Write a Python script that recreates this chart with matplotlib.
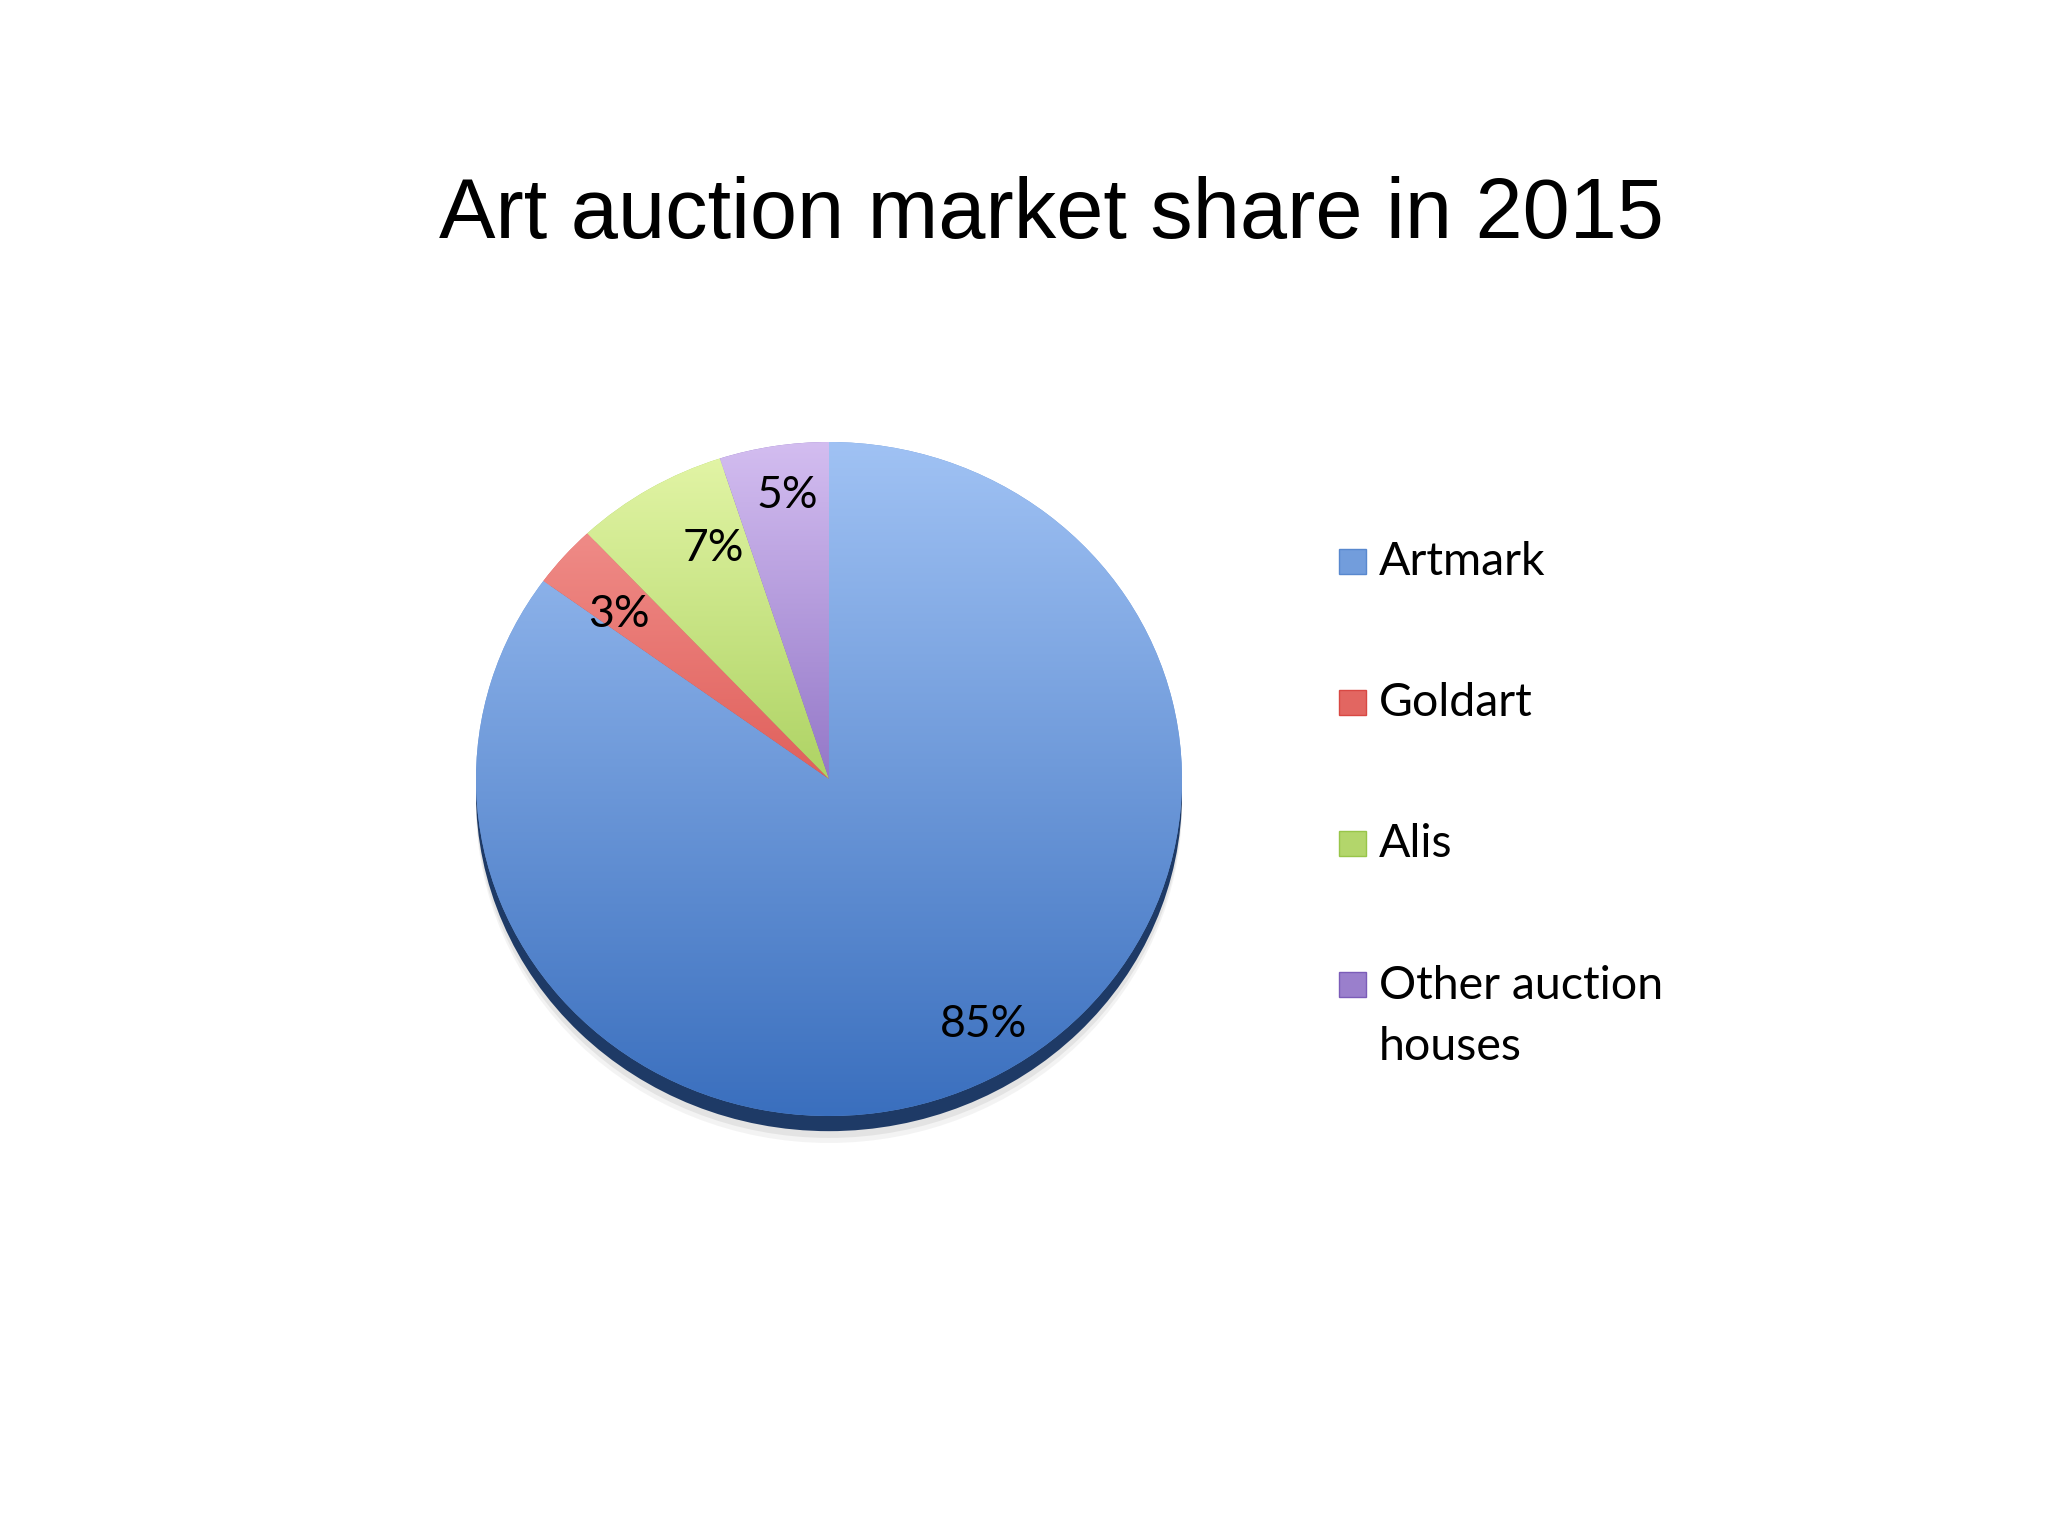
import matplotlib
matplotlib.use("Agg")
import matplotlib.pyplot as plt
import numpy as np
from matplotlib.colors import LinearSegmentedColormap
from matplotlib.patches import Ellipse, Rectangle

# ---- data ----
title = "Art auction market share in 2015"
categories = ["Artmark", "Goldart", "Alis", "Other auction\nhouses"]
shares = [85, 3, 7, 5]

# ---- styles ----
colors_top = ["#A0C2F4", "#F59B97", "#E4F6A8", "#D3BDF0"]
colors_bottom = ["#3A6FBE", "#CB2520", "#78B020", "#5533A0"]
label_dist = [0.85, 0.77, 0.76, 0.85]
label_angle_shift = [4, 2, -5, -1]

W, H = 2048, 1536
fig = plt.figure(figsize=(W / 100, H / 100), dpi=100)
fig.patch.set_facecolor("white")

# pie axes (slightly elliptical, as in the reference)
cx, cy, rx, ry = 829, 779, 353, 337
ax = fig.add_axes([(cx - rx) / W, (H - cy - ry) / H, 2 * rx / W, 2 * ry / H])

cmaps = [LinearSegmentedColormap.from_list(f"c{i}", [b, t])
         for i, (t, b) in enumerate(zip(colors_top, colors_bottom))]
mid_colors = [cm(0.5) for cm in cmaps]

# shadow under pie
for off, col, a in [(0.08, "#909090", 0.10), (0.065, "#707070", 0.12),
                    (0.045, "#1E3A66", 1.0)]:
    ax.add_patch(Ellipse((0, -off), 2.0, 2.0, facecolor=col, alpha=a,
                         edgecolor="none", zorder=0.5, clip_on=False))

wedges, texts, autotexts = ax.pie(
    shares, startangle=90, counterclock=False, colors=mid_colors,
    autopct="%1.0f%%", pctdistance=0.8, radius=1,
    wedgeprops=dict(linewidth=0),
    textprops=dict(fontsize=32, family=["Lato", "DejaVu Sans"], color="black"))

grad = np.linspace(0, 1, 256).reshape(-1, 1)
for w, cm in zip(wedges, cmaps):
    im = ax.imshow(grad, extent=(-1, 1, -1, 1), origin="lower", cmap=cm,
                   aspect="auto", zorder=2, interpolation="bilinear")
    im.set_clip_path(w)

for w, t, d, s in zip(wedges, autotexts, label_dist, label_angle_shift):
    ang = np.deg2rad((w.theta1 + w.theta2) / 2 + s)
    t.set_position((d * np.cos(ang), d * np.sin(ang)))
    t.set_zorder(5)

ax.set_aspect("auto")
ax.set_xlim(-1, 1)
ax.set_ylim(-1, 1)
ax.axis("off")

# title
fig.text(1051 / W, 1 - 238 / H, title, ha="center", va="baseline",
         fontsize=61, family=["Liberation Sans", "DejaVu Sans"], color="black")

# legend (drawn manually so the marker aligns with the first line)
base0, step, line_gap = 575, 141, 62
for i, (name, cm) in enumerate(zip(categories, cmaps)):
    yb = base0 + i * step
    fig.patches.append(Rectangle((1339 / W, 1 - (yb - 1) / H), 27 / W, 25 / H,
                                 transform=fig.transFigure, facecolor=cm(0.55),
                                 edgecolor=cm(0.3), linewidth=1))
    n_extra = name.count("\n")
    fig.text(1379 / W, 1 - (yb + n_extra * line_gap) / H, name, ha="left",
             va="baseline", fontsize=33.5, family=["Lato", "DejaVu Sans"],
             color="black", linespacing=1.55)

fig.savefig("out.png", dpi=100, facecolor="white")
